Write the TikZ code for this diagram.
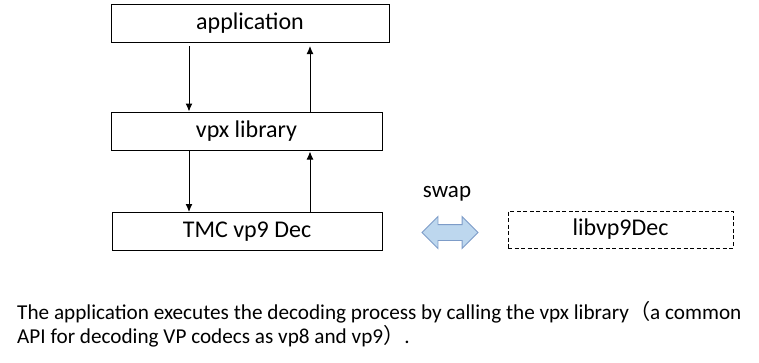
\documentclass[tikz,border=0pt]{standalone}
\usepackage{fontspec}
\setmainfont{Carlito}
\newfontfamily\cjk{Noto Sans CJK SC}
\usetikzlibrary{arrows.meta,shapes.arrows}

\definecolor{swapfill}{HTML}{BDD7EE}
\definecolor{swapline}{HTML}{7D9CC8}

\tikzset{
    layerbox/.style={draw, line width=1pt, minimum height=38pt, inner sep=0pt,
        font=\fontsize{24}{28}\selectfont},
    callarrow/.style={line width=1pt, -{Latex[length=8pt,width=7pt]}},
    notetext/.style={anchor=west, inner sep=0pt, font=\fontsize{21.2}{24}\selectfont}
}

\begin{document}
\begin{tikzpicture}[x=1pt, y=-1pt]

        % Fix the page to the reference size
        \useasboundingbox (0,0) rectangle (759,362);

        % Define parameters
        \def\dnx{189}    % x of the downward calls
        \def\upx{310}    % x of the returns

        % Draw the software layers
        \node[layerbox, minimum width=278pt] (app) at (250,23.5) {application};
        \node[layerbox, minimum width=271pt] (vpx) at (246.5,131) {vpx library};
        \node[layerbox, minimum width=270pt] (tmc) at (247,231.5) {TMC vp9 Dec};

        % Replacement decoder
        \node[layerbox, dashed, dash pattern=on 4pt off 2.5pt, minimum width=225pt,
            minimum height=37pt] (lib) at (620.5,229.5) {libvp9Dec};

        % Swap arrow and its label
        \node[double arrow, draw=swapline, fill=swapfill, line width=0.9pt,
            minimum width=0pt, minimum height=56pt, double arrow head extend=8pt,
            inner xsep=0pt, inner ysep=7.5pt] (swap) at (450,232.5) {};
        \node[font=\fontsize{23}{26}\selectfont] (swaplabel) at (447,194) {swap};

        % Calls between layers
        \coordinate (dn) at (\dnx,0);
        \coordinate (up) at (\upx,0);
        \draw[callarrow, shorten <=3pt] (app.south -| dn) -- (vpx.north -| dn);
        \draw[callarrow, shorten >=3pt] (vpx.north -| up) -- (app.south -| up);
        \draw[callarrow] (vpx.south -| dn) -- (tmc.north -| dn);
        \draw[callarrow, shorten >=1pt] (tmc.north -| up) -- (vpx.south -| up);

        % Caption below
        \node[notetext] (line1) at (17,312) {The application executes the decoding process by calling the vpx library{\cjk （}a common};
        \node[notetext] (line2) at (17,336) {API for decoding VP codecs as vp8 and vp9{\cjk ）}.};

    \end{tikzpicture}
\end{document}
